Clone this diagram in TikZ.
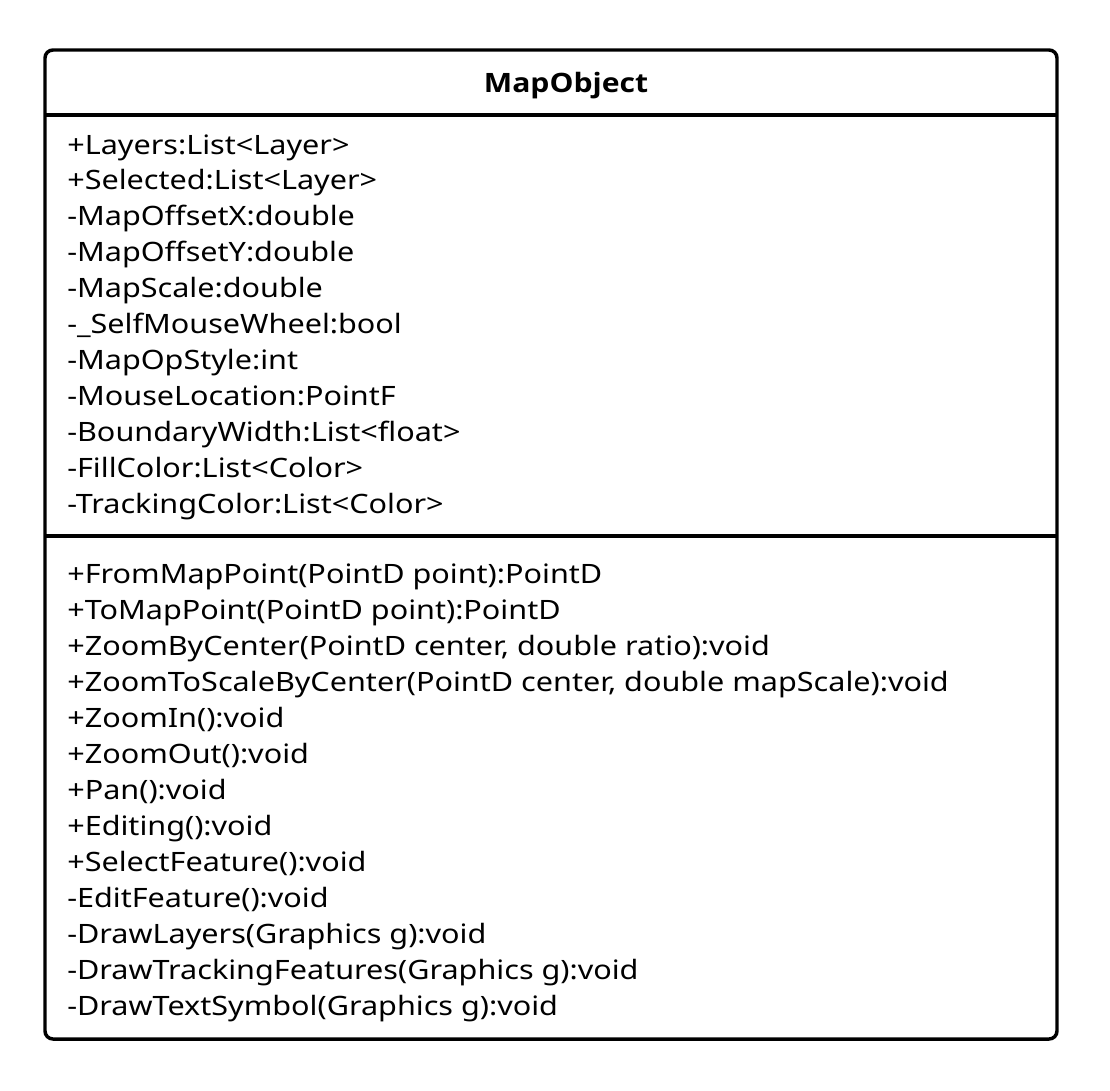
\documentclass[tikz,border=0pt]{standalone}
\usepackage{fontspec}
\setmainfont{Noto Sans}[FakeStretch=1.147]
\newfontfamily\titlefont{Open Sans}[FakeStretch=1.13]
\begin{document}
\begin{tikzpicture}[x=0.75pt,y=-0.75pt,
  frame/.style={line width=2.6pt, rounded corners=6pt},
  sep/.style={line width=2.6pt},
  title/.style={font=\titlefont\fontsize{20}{24}\selectfont\bfseries, anchor=base, inner sep=0pt},
  member/.style={font=\fontsize{20}{24}\selectfont, anchor=base west, inner sep=0pt}]
\useasboundingbox (0,0) rectangle (1110,1090);
\draw[frame] (45,50) rectangle (1057,1039);
\coordinate (hl) at (45,115); \coordinate (hr) at (1057,115);
\coordinate (ml) at (45,536); \coordinate (mr) at (1057,536);
\draw[sep] (hl) -- (hr);
\draw[sep] (ml) -- (mr);
\node[title] (t) at (566,92) {MapObject};
\foreach \txt [count=\i from 0] in {
  {+Layers:List<Layer>},
  {+Selected:List<Layer>},
  {-MapOffsetX:double},
  {-MapOffsetY:double},
  {-MapScale:double},
  {-\_SelfMouseWheel:bool},
  {-MapOpStyle:int},
  {-MouseLocation:PointF},
  {-BoundaryWidth:List<float>},
  {-FillColor:List<Color>},
  {-TrackingColor:List<Color>}}
  \node[member] (a\i) at (67,154+35.9*\i) {\txt};
\foreach \txt [count=\i from 0] in {
  {+FromMapPoint(PointD point):PointD},
  {+ToMapPoint(PointD point):PointD},
  {+ZoomByCenter(PointD center, double ratio):void},
  {+ZoomToScaleByCenter(PointD center, double mapScale):void},
  {+ZoomIn():void},
  {+ZoomOut():void},
  {+Pan():void},
  {+Editing():void},
  {+SelectFeature():void},
  {-EditFeature():void},
  {-DrawLayers(Graphics g):void},
  {-DrawTrackingFeatures(Graphics g):void},
  {-DrawTextSymbol(Graphics g):void}}
  \node[member] (m\i) at (67,583+36*\i) {\txt};
\end{tikzpicture}
\end{document}
